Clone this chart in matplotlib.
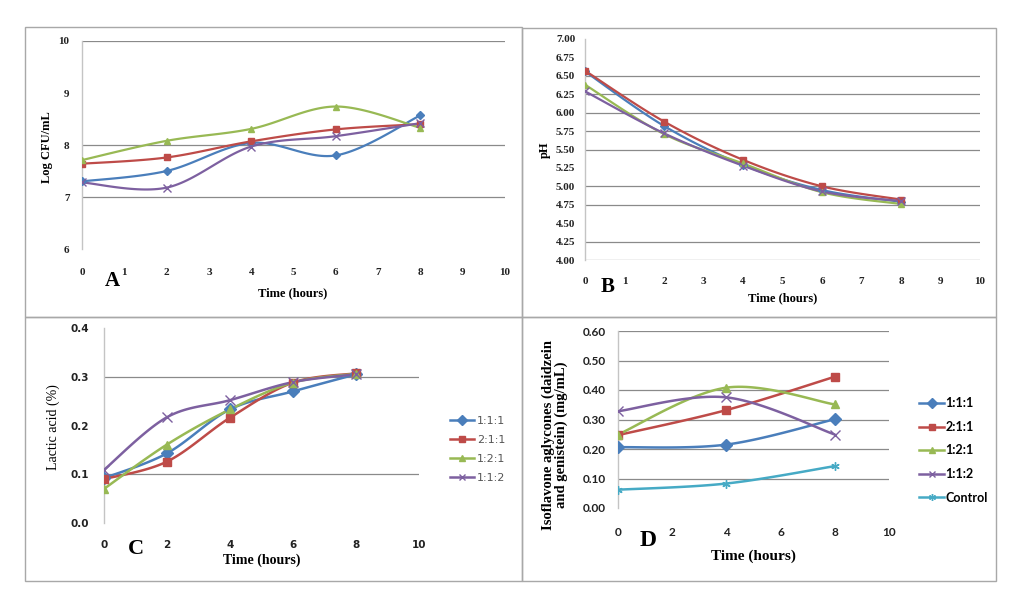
import numpy as np
import matplotlib
matplotlib.use("Agg")
import matplotlib.pyplot as plt
from matplotlib.patches import Rectangle
from matplotlib.font_manager import FontProperties

W, H = 1017, 604

# data
series = ["1:1:1", "2:1:1", "1:2:1", "1:1:2"]
colors = ["#4a7ebb", "#be4b48", "#98b954", "#7d60a0", "#46aac5"]
markers = ["D", "s", "^", "x", (6, 2, 0)]

time_abc = [0, 2, 4, 6, 8]
cfu = [
    [7.30, 7.50, 8.04, 7.80, 8.57],
    [7.64, 7.76, 8.07, 8.30, 8.40],
    [7.71, 8.08, 8.31, 8.74, 8.33],
    [7.28, 7.18, 7.97, 8.17, 8.42],
]
ph = [
    [6.56, 5.82, 5.29, 4.95, 4.79],
    [6.57, 5.88, 5.36, 5.00, 4.82],
    [6.38, 5.71, 5.31, 4.92, 4.76],
    [6.29, 5.72, 5.28, 4.93, 4.80],
]
lactic = [
    [0.092, 0.143, 0.233, 0.270, 0.305],
    [0.090, 0.126, 0.216, 0.288, 0.307],
    [0.070, 0.161, 0.233, 0.288, 0.306],
    [0.109, 0.217, 0.252, 0.289, 0.305],
]
time_d = [0, 4, 8]
series_d = ["1:1:1", "2:1:1", "1:2:1", "1:1:2", "Control"]
isoflavone = [
    [0.206, 0.215, 0.301],
    [0.247, 0.332, 0.445],
    [0.249, 0.408, 0.351],
    [0.328, 0.375, 0.249],
    [0.062, 0.083, 0.142],
]


def smooth(x, y, n=30):
    # excel-like smoothed line (bezier through the points)
    x = np.asarray(x, float)
    y = np.asarray(y, float)
    px = np.concatenate([[x[0]], x, [x[-1]]])
    py = np.concatenate([[y[0]], y, [y[-1]]])
    t = np.linspace(0, 1, n)[:, None]
    out = []
    for i in range(len(x) - 1):
        p0 = np.array([px[i], py[i]])
        p1 = np.array([px[i + 1], py[i + 1]])
        p2 = np.array([px[i + 2], py[i + 2]])
        p3 = np.array([px[i + 3], py[i + 3]])
        c1 = p1 + (p2 - p0) / 6
        c2 = p2 - (p3 - p1) / 6
        seg = ((1 - t) ** 3) * p1 + 3 * ((1 - t) ** 2) * t * c1 \
            + 3 * (1 - t) * t ** 2 * c2 + t ** 3 * p2
        out.append(seg)
    out = np.vstack(out)
    return out[:, 0], out[:, 1]


def add_ax(x0, x1, ytop, ybot):
    return fig.add_axes([x0 / W, 1 - ybot / H, (x1 - x0) / W, (ybot - ytop) / H])


def ftext(x, y, s, **kw):
    fig.text(x / W, 1 - y / H, s, **kw)


def style_ax(ax, ylim, yticks, ylabels, xticks, grid, tickfont, ypad, xpad):
    ax.set_xlim(0, 10)
    ax.set_ylim(*ylim)
    for s in ["top", "right", "bottom"]:
        ax.spines[s].set_visible(False)
    ax.spines["left"].set_color("#c4c4c4")
    ax.spines["left"].set_linewidth(1.0)
    for g in grid:
        ax.axhline(g, color="#8a8a8a", lw=0.9, zorder=0)
    ax.set_xticks(xticks)
    ax.set_yticks(yticks)
    ax.set_yticklabels(ylabels)
    ax.tick_params(length=0)
    ax.tick_params(axis="y", pad=ypad)
    ax.tick_params(axis="x", pad=xpad)
    for lab in ax.get_xticklabels() + ax.get_yticklabels():
        lab.set_fontproperties(tickfont)
        lab.set_color("#222222")
    ax.patch.set_alpha(0)


def draw(ax, x, ys, names, lw, ms):
    handles = []
    for i, y in enumerate(ys):
        sx, sy = smooth(x, y)
        ax.plot(sx, sy, color=colors[i], lw=lw, zorder=3, solid_capstyle="round")
        mk = markers[i]
        ax.plot(x, y, linestyle="none", marker=mk, color=colors[i],
                markersize=ms + 1 if mk == "x" else ms,
                markeredgecolor=colors[i], markeredgewidth=1.0, zorder=4)
        h, = ax.plot([], [], color=colors[i], lw=lw, marker=mk, markersize=ms - 1,
                     markeredgewidth=1.0, label=names[i])
        handles.append(h)
    return handles


fig = plt.figure(figsize=(W / 100, H / 100), dpi=100)

# panel frames
frames = [(25, 27, 522, 317), (522, 28, 996, 317), (25, 317, 522, 581), (522, 317, 996, 581)]
for x0, y0, x1, y1 in frames:
    fig.add_artist(Rectangle((x0 / W, 1 - y1 / H), (x1 - x0) / W, (y1 - y0) / H,
                             transform=fig.transFigure, fill=False,
                             edgecolor="#a8a8a8", lw=1.0))

fp_serif = FontProperties(family="Liberation Serif", weight="bold", size=8)
fp_sans = FontProperties(family="Lato", weight="bold", size=8.5)
fp_sans_c = FontProperties(family="DejaVu Sans", weight="bold", size=7.5)

# A
axA = add_ax(82, 505, 41, 249)
a_ticks = [6, 7, 8, 9, 10]
style_ax(axA, (6, 10), a_ticks, [str(v) for v in a_ticks], range(0, 11),
         [7, 8, 10], fp_serif, 9, 14)
draw(axA, time_abc, cfu, series, 1.6, 4.5)
ftext(47, 147, "Log CFU/mL", rotation=90, ha="center", va="center",
      family="Liberation Serif", weight="bold", size=9)
ftext(293, 293, "Time (hours)", ha="center", va="center",
      family="Liberation Serif", weight="bold", size=9)
ftext(112, 281, "A", ha="center", va="center",
      family="Liberation Serif", weight="bold", size=15)

# B
axB = add_ax(585, 980, 39, 260)
b_ticks = np.arange(4, 7.01, 0.25)
style_ax(axB, (4, 7), b_ticks, ["%.2f" % v for v in b_ticks], range(0, 11),
         [4.0, 4.25, 4.75, 5.0, 5.5, 5.75, 6.0, 6.25, 6.5], fp_serif, 7, 12)
draw(axB, time_abc, ph, series, 1.6, 4.5)
ftext(545, 150, "pH", rotation=90, ha="center", va="center",
      family="Liberation Serif", weight="bold", size=9)
ftext(783, 298, "Time (hours)", ha="center", va="center",
      family="Liberation Serif", weight="bold", size=9)
ftext(608, 287, "B", ha="center", va="center",
      family="Liberation Serif", weight="bold", size=15)

# C
axC = add_ax(104, 419, 328, 523)
c_ticks = [0.0, 0.1, 0.2, 0.3, 0.4]
style_ax(axC, (0, 0.4), c_ticks, ["%.1f" % v for v in c_ticks], range(0, 11, 2),
         [0.1, 0.3], fp_sans_c, 11, 12)
hC = draw(axC, time_abc, lactic, series, 1.8, 6)
legC = fig.legend(handles=hC, loc="upper left",
                  bbox_to_anchor=(440 / W, 1 - 406 / H), frameon=False,
                  handlelength=2.2, handletextpad=0.2, labelspacing=0.82,
                  prop={"family": "DejaVu Sans", "size": 8})
for t in legC.get_texts():
    t.set_color("#555555")
ftext(53, 427, "Lactic acid (%)", rotation=90, ha="center", va="center",
      family="Liberation Serif", size=10)
ftext(262, 560, "Time (hours)", ha="center", va="center",
      family="Liberation Serif", weight="bold", size=10)
ftext(136, 549, "C", ha="center", va="center",
      family="Liberation Serif", weight="bold", size=16)

# D
axD = add_ax(618, 889, 331, 508)
d_ticks = [0.0, 0.1, 0.2, 0.3, 0.4, 0.5, 0.6]
style_ax(axD, (0, 0.6), d_ticks, ["%.2f" % v for v in d_ticks], range(0, 11, 2),
         [0.1, 0.2, 0.3, 0.4, 0.5, 0.6], fp_sans, 9, 14)
hD = draw(axD, time_d, isoflavone, series_d, 1.8, 6)
legD = fig.legend(handles=hD, loc="upper left",
                  bbox_to_anchor=(908 / W, 1 - 386 / H), frameon=False,
                  handlelength=2.0, handletextpad=0.1, labelspacing=0.93,
                  prop={"family": "Lato", "weight": "bold", "size": 9})
ftext(555, 435, "Isoflavone aglycones (daidzein\nand genistein) (mg/mL)", rotation=90,
      ha="center", va="center", family="Liberation Serif", weight="bold", size=10.5,
      linespacing=1.0)
ftext(753, 556, "Time (hours)", ha="center", va="center",
      family="Liberation Serif", weight="bold", size=11)
ftext(648, 540, "D", ha="center", va="center",
      family="Liberation Serif", weight="bold", size=17)

fig.savefig("out.png", dpi=100)
